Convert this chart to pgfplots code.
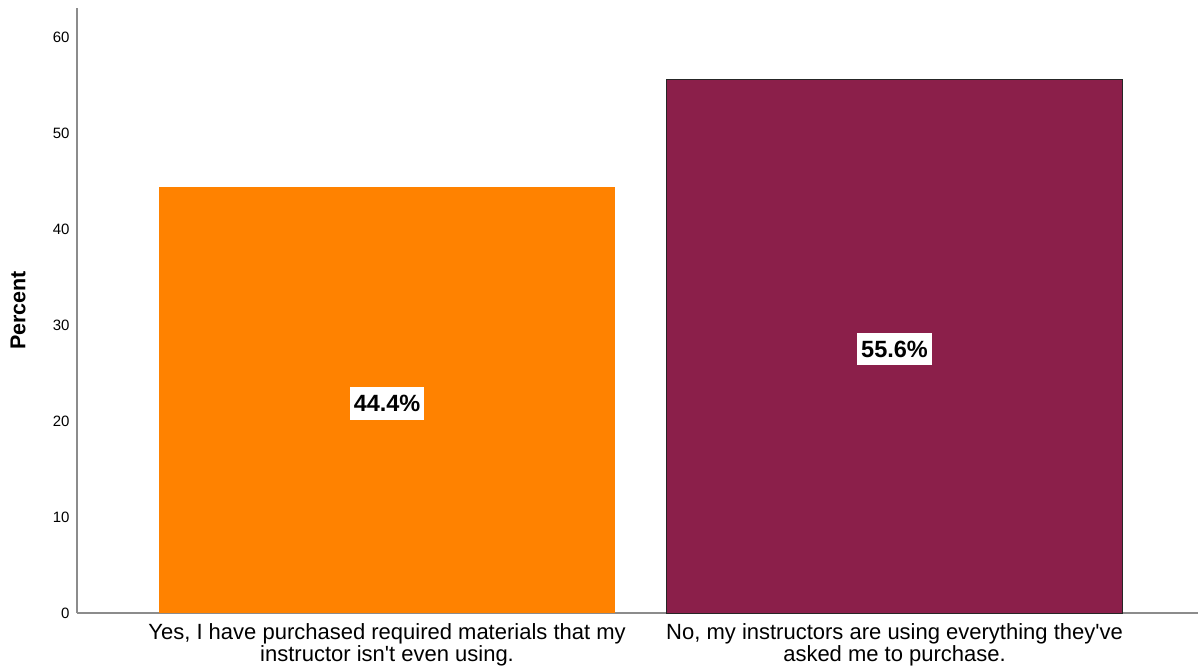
\documentclass[border=0pt]{standalone}
\usepackage{pgfplots}
\pgfplotsset{compat=1.18}
\usepackage{fontspec}
\setmainfont{Liberation Sans}[Ligatures=TeXOff]
\definecolor{barorange}{RGB}{255,130,0}
\definecolor{barpurple}{RGB}{139,31,74}
\definecolor{axgray}{RGB}{140,140,140}
\begin{document}
\begin{tikzpicture}
\begin{axis}[
  scale only axis,
  width=1121pt, height=605pt,
  xmin=-0.611, xmax=1.598,
  ymin=0, ymax=63.02,
  axis lines*=left,
  axis line style={draw=axgray, line width=2pt},
  ybar, bar width=0.9, bar shift=0pt,
  xtick={0,1},
  xticklabels={{Yes, I have purchased required materials that my\\instructor isn't even using.},{No, my instructors are using everything they've\\asked me to purchase.}},
  xticklabel style={align=center, font=\fontsize{22}{22.5}\selectfont, anchor=north, yshift=-7pt},
  ytick={0,10,20,30,40,50,60},
  yticklabel style={font=\fontsize{15}{16}\selectfont, anchor=east, xshift=-4pt},
  /pgf/number format/assume math mode=true,
  major tick length=0pt,
  tick style={draw=none},
  ylabel={\bfseries Percent},
  ylabel style={font=\fontsize{21.5}{23}\selectfont, at={(axis description cs:-0.0526,0.5)}, anchor=center},
  clip=false,
]
\addplot[fill=barorange, draw=none] coordinates {(0,44.4)};
\addplot[fill=barpurple, draw=black!85, line width=1pt] coordinates {(1,55.6)};
\node[fill=white, inner xsep=4pt, inner ysep=8pt, font=\fontsize{23.5}{25}\selectfont\bfseries] at (axis cs:0,21.8) {44.4\%};
\node[fill=white, inner xsep=4pt, inner ysep=8pt, font=\fontsize{23.5}{25}\selectfont\bfseries] at (axis cs:1,27.5) {55.6\%};
\end{axis}
\pgfresetboundingbox
\useasboundingbox (-77pt,-58pt) rectangle (1121pt,613pt);
\end{tikzpicture}
\end{document}
